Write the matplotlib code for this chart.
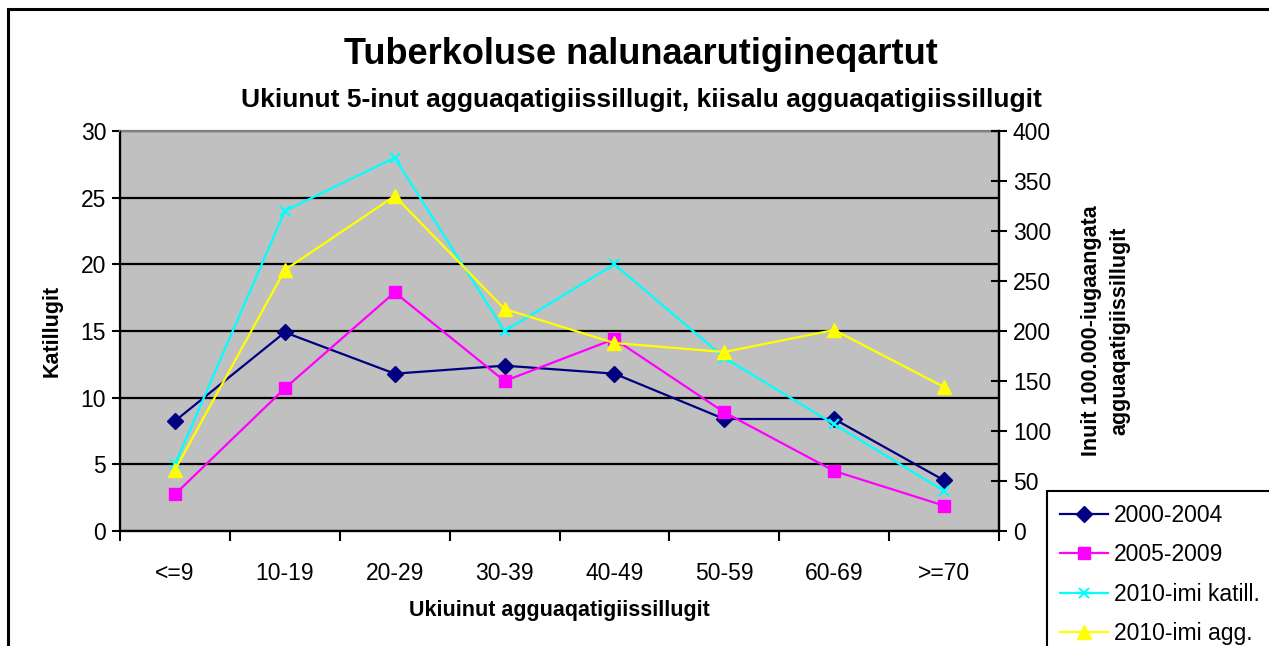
import matplotlib
matplotlib.use("Agg")
import matplotlib.pyplot as plt
from matplotlib.patches import Rectangle

plt.rcParams['font.family'] = ['Liberation Sans', 'DejaVu Sans']

categories = ["<=9", "10-19", "20-29", "30-39", "40-49", "50-59", "60-69", ">=70"]
s2000_2004 = [8.25, 14.9, 11.8, 12.4, 11.8, 8.4, 8.4, 3.8]
s2005_2009 = [2.75, 10.7, 17.9, 11.25, 14.4, 8.9, 4.5, 1.9]
s2010_katill = [5, 24, 28, 15, 20, 13, 8, 3]
s2010_agg = [61, 261, 335, 222, 188, 179, 201, 144]

title = "Tuberkoluse nalunaarutigineqartut"
subtitle = "Ukiunut 5-inut agguaqatigiissillugit, kiisalu agguaqatigiissillugit"
xlabel = "Ukiuinut agguaqatigiissillugit"
ylabel_left = "Katillugit"
ylabel_right = "Inuit 100.000-iugaangata\nagguaqatigiissillugit"

W, H = 1269, 646
fig = plt.figure(figsize=(W / 100, H / 100), dpi=100)

# outer frame
fig.patches.append(Rectangle((8 / W, -0.05), 1.2, (H - 9) / H + 0.05, transform=fig.transFigure,
                             fill=False, edgecolor='black', linewidth=2.2, zorder=0))

ax = fig.add_axes([120 / W, (H - 531) / H, (999 - 120) / W, (531 - 131) / H])
ax.set_facecolor('#C0C0C0')
x = list(range(len(categories)))

ax.plot(x, s2000_2004, color='#000080', marker='D', markersize=8.5, linewidth=1.6, label='2000-2004', zorder=3)
ax.plot(x, s2005_2009, color='#FF00FF', marker='s', markersize=8.5, linewidth=1.6, label='2005-2009', zorder=3)
ax.plot(x, s2010_katill, color='#00FFFF', marker='x', markersize=7, markeredgewidth=1.5, linewidth=1.6,
        label='2010-imi katill.', zorder=3)

ax.set_xlim(-0.5, len(categories) - 0.5)
ax.set_ylim(0, 30)
ax.set_yticks(range(0, 31, 5))
ax.yaxis.grid(True, color='black', linewidth=1.6)
ax.set_axisbelow(True)
ax.set_xticks(x)
ax.set_xticklabels(categories, fontsize=16.5)
ax.tick_params(axis='x', length=0, pad=22)
ax.set_xticks([i - 0.5 for i in range(len(categories) + 1)], minor=True)
ax.tick_params(axis='x', which='minor', length=7, width=1.5, direction='out')
ax.tick_params(axis='y', labelsize=16.5, length=6, width=1.5, direction='out', pad=4)
for s in ['left', 'bottom', 'right']:
    ax.spines[s].set_color('black')
    ax.spines[s].set_linewidth(1.6)
ax.spines['top'].set_color('#808080')
ax.spines['top'].set_linewidth(1.6)

ax.set_xlabel(xlabel, fontsize=15.5, fontweight='bold', labelpad=11)
ax.set_ylabel(ylabel_left, fontsize=15.5, fontweight='bold')
ax.yaxis.set_label_coords(-0.065, 0.5)

ax2 = ax.twinx()
ax2.plot(x, s2010_agg, color='#FFFF00', marker='^', markersize=10, linewidth=1.6, label='2010-imi agg.', zorder=3)
ax2.set_ylim(0, 400)
ax2.set_yticks(range(0, 401, 50))
ax2.tick_params(axis='y', labelsize=16.5, length=12, width=1.5, direction='inout', pad=4)
ax2.spines['right'].set_linewidth(1.6)
ax2.spines['top'].set_visible(False)
ax2.set_ylabel(ylabel_right, fontsize=15.5, fontweight='bold', linespacing=1.45)
ax2.yaxis.set_label_coords(1.093, 0.5)

fig.text(641 / W, 1 - 55 / H, title, ha='center', va='center', fontsize=26, fontweight='bold')
fig.text(641 / W, 1 - 100 / H, subtitle, ha='center', va='center', fontsize=19, fontweight='bold')

handles = ax.get_lines() + ax2.get_lines()
leg = fig.legend(handles, [h.get_label() for h in handles], loc='upper left',
                 bbox_to_anchor=(1047 / W, 1 - 491 / H), fontsize=16.5, frameon=True, fancybox=False,
                 edgecolor='black', framealpha=1, borderaxespad=0, handlelength=2.1, handletextpad=0.28,
                 labelspacing=0.72, borderpad=0.55)
leg.get_frame().set_linewidth(1.5)

fig.savefig('out.png', dpi=100)
